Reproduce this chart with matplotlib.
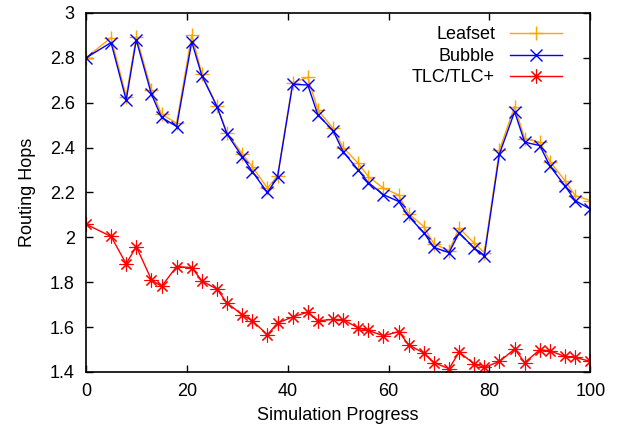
import matplotlib
matplotlib.use("Agg")
import matplotlib.pyplot as plt

plt.rcParams['font.family'] = ['Liberation Sans', 'DejaVu Sans']

x = [0, 5, 8, 10, 13, 15, 18, 21, 23, 26, 28, 31, 33, 36, 38, 41, 44, 46, 49, 51,
     54, 56, 59, 62, 64, 67, 69, 72, 74, 77, 79, 82, 85, 87, 90, 92, 95, 97, 100]

leafset = [2.80, 2.89, 2.627, 2.894, 2.657, 2.549, 2.509, 2.902, 2.728, 2.585,
           2.465, 2.372, 2.315, 2.219, 2.274, 2.69, 2.713, 2.568, 2.486, 2.40,
           2.33, 2.271, 2.219, 2.189, 2.105, 2.048, 1.971, 1.941, 2.041, 1.974,
           1.932, 2.39, 2.583, 2.44, 2.424, 2.338, 2.252, 2.186, 2.164]

bubble = [2.80, 2.868, 2.612, 2.88, 2.638, 2.535, 2.494, 2.872, 2.72, 2.583,
          2.46, 2.36, 2.293, 2.20, 2.268, 2.682, 2.679, 2.546, 2.476, 2.382,
          2.30, 2.244, 2.19, 2.16, 2.093, 2.021, 1.955, 1.932, 2.02, 1.952,
          1.918, 2.372, 2.56, 2.424, 2.409, 2.318, 2.229, 2.164, 2.126]

tlc = [2.059, 2.004, 1.882, 1.959, 1.811, 1.781, 1.870, 1.865, 1.806, 1.769,
       1.707, 1.655, 1.628, 1.566, 1.618, 1.645, 1.667, 1.628, 1.634, 1.633,
       1.596, 1.585, 1.561, 1.580, 1.521, 1.484, 1.442, 1.414, 1.489, 1.435,
       1.42, 1.447, 1.502, 1.442, 1.499, 1.494, 1.469, 1.465, 1.447]

series_names = ['Leafset', 'Bubble', 'TLC/TLC+']

xticks = [0, 20, 40, 60, 80, 100]
yticks = [1.4, 1.6, 1.8, 2.0, 2.2, 2.4, 2.6, 2.8, 3.0]
ytick_labels = ['1.4', '1.6', '1.8', '2', '2.2', '2.4', '2.6', '2.8', '3']

FS = 13

fig = plt.figure(figsize=(6.22, 4.33), dpi=100)
ax = fig.add_axes([0.138, 0.141, 0.811, 0.829])

ax.plot(x, leafset, color='#ffa500', lw=1, marker='+', ms=10, mew=1, label=series_names[0])
ax.plot(x, bubble, color='#0000ff', lw=1, marker='x', ms=9, mew=1, label=series_names[1])
ax.plot(x, tlc, color='#ff0000', lw=1, marker=(8, 2, 0), ms=10, mew=0.8, label=series_names[2])

ax.set_xlim(0, 100)
ax.set_ylim(1.4, 3.0)
ax.set_xticks(xticks)
ax.set_xticklabels([str(t) for t in xticks])
ax.set_yticks(yticks)
ax.set_yticklabels(ytick_labels)
ax.tick_params(direction='in', top=True, right=True, length=5, width=1, labelsize=FS, pad=8)
for s in ax.spines.values():
    s.set_linewidth(1.2)

ax.set_xlabel('Simulation Progress', fontsize=FS, labelpad=5)
ax.set_ylabel('Routing Hops', fontsize=FS, labelpad=10)

ax.legend(loc='upper right', bbox_to_anchor=(0.958, 0.983), borderaxespad=0,
          frameon=False, markerfirst=False, fontsize=FS,
          handlelength=2.9, handletextpad=0.8, labelspacing=0.25, numpoints=1)

fig.savefig('out.png', dpi=100)
